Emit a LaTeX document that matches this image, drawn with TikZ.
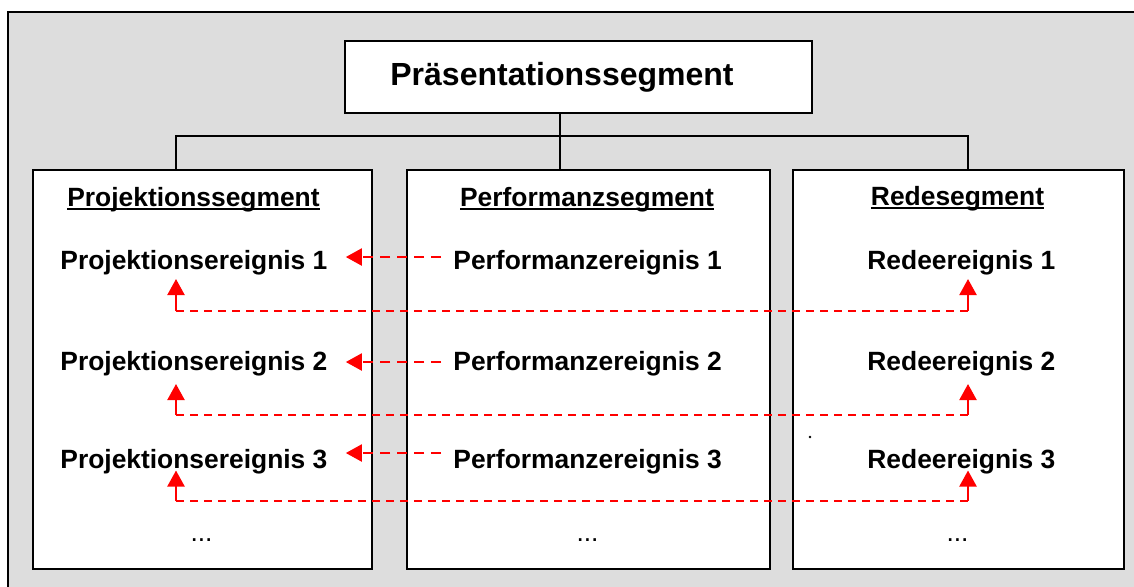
\documentclass[tikz,border=0pt]{standalone}
\usepackage{fontspec}
\setmainfont{Liberation Sans}
\usetikzlibrary{arrows.meta}
\definecolor{panelGray}{RGB}{221,221,221}
\newcommand{\segline}[1]{\setbox0\hbox{#1}\rlap{\rule[-1.9pt]{\wd0}{1.1pt}}\box0}
\tikzset{
  %white boxes
  segBox/.style = {draw=black, fill=white, line width=1pt, anchor=north west,
    inner sep=0pt},
  %headline of a segment
  segTitle/.style = {anchor=base, inner sep=0pt,
    font=\fontsize{13.2}{15}\selectfont\bfseries},
  %single event
  eventNode/.style = {anchor=base west, inner sep=0pt,
    font=\fontsize{13.2}{15}\selectfont\bfseries},
  %red links
  eventLink/.style = {red, line width=1.1pt, dash pattern=on 5pt off 3.5pt,
    -{Triangle[length=8pt,width=8.5pt]}},
  loopLink/.style = {red, line width=0.8pt, dash pattern=on 4pt off 3pt},
  treeLine/.style = {draw=black, line width=1pt}
}

\begin{document}
\begin{tikzpicture}[x=0.5pt, y=-0.5pt]
\useasboundingbox (0,0) rectangle (1134,586);
\filldraw[fill=panelGray, draw=black, line width=1pt] (7.5,12) rectangle (1160,610);
\node[segBox, minimum width=233.25pt, minimum height=35.85pt] (present) at (344,40) {};
\node[anchor=base, inner sep=0pt, font=\fontsize{16}{19}\selectfont\bfseries]
  (presentText) at (562,85) {Präsentationssegment};
\node[segBox, minimum width=169.5pt, minimum height=199.9pt] (projBox) at (31.7,168.5) {};
\node[segBox, minimum width=181.6pt, minimum height=199.9pt] (perfBox) at (405.5,168.5) {};
\node[segBox, minimum width=165.8pt, minimum height=199.9pt] (redeBox) at (791.7,168.5) {};
% tree
\coordinate (hub) at (560,136);
\coordinate (hubL) at (176,136);
\coordinate (hubR) at (968,136);
\draw[treeLine] (present.south -| hub) -- (perfBox.north -| hub);
\draw[treeLine] (projBox.north -| hubL) |- (hubR) -- (redeBox.north -| hubR);
\node[segTitle] (projHead) at (193.5,206) {\segline{Projektionssegment}};
\node[segTitle] (perfHead) at (587,206) {\segline{Performanzsegment}};
\node[segTitle] (redeHead) at (957.5,205.5) {\segline{Redesegment}};
\foreach \i/\yb/\ya/\yl/\yt in {1/269/257/311/279, 2/370/362/415/384, 3/468.5/453/501/470.5}{
  \node[eventNode] (proj\i) at (60,\yb) {Projektionsereignis \i};
  \node[eventNode] (perf\i) at (453,\yb) {Performanzereignis \i};
  \node[eventNode] (rede\i) at (867,\yb) {Redeereignis \i};
  % performance to projection
  \draw[eventLink, shorten <=6pt, shorten >=9pt] (perf\i.west |- 0,\ya) -- (proj\i.east |- 0,\ya);
  % speech and projection
  \draw[loopLink] (hubL |- 0,\yl) -- (hubR |- 0,\yl);
  \draw[eventLink, solid] (hubL |- 0,\yl) -- (hubL |- 0,\yt);
  \draw[eventLink, solid] (hubR |- 0,\yl) -- (hubR |- 0,\yt);
}
\node[anchor=base, inner sep=0pt, font=\fontsize{13.2}{15}\selectfont] (projMore) at (201.5,541) {...};
\node[anchor=base, inner sep=0pt, font=\fontsize{13.2}{15}\selectfont] (perfMore) at (587.5,541) {...};
\node[anchor=base, inner sep=0pt, font=\fontsize{13.2}{15}\selectfont] (redeMore) at (957.5,541) {...};
\fill (810,437) circle (0.7pt);
\end{tikzpicture}
\end{document}
